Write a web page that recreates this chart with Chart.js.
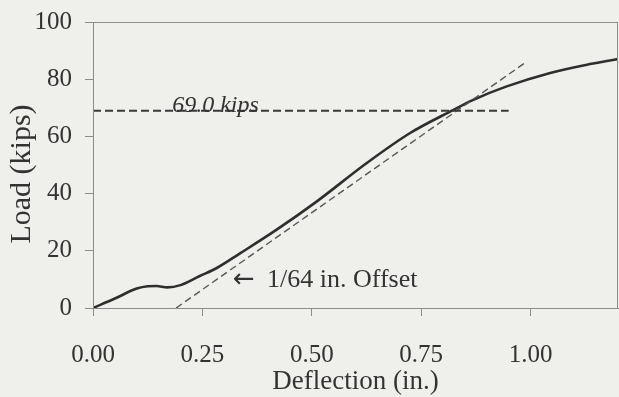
<!DOCTYPE html>
<html>
<head>
<meta charset="utf-8">
<script src="https://cdn.jsdelivr.net/npm/chart.js@4.4.0/dist/chart.umd.min.js"></script>
<style>
  html, body { margin: 0; padding: 0; background: #efefec; }
  canvas { display: block; }
  #fontWarm { position: absolute; left: -999px; font-family: "Liberation Serif"; }
</style>
</head>
<body>
<canvas id="loadChart" width="619" height="397"></canvas>
<span id="fontWarm">0.25 <i>kips</i> <span style="font-family:'DejaVu Sans'">←</span></span>
<script>
// measured load-deflection curve
const deflection = [0, 0.05, 0.10, 0.125, 0.145, 0.17, 0.20, 0.244, 0.282, 0.336, 0.419, 0.511, 0.625, 0.724, 0.823, 0.868, 0.944, 1.043, 1.127, 1.198];
const load = [0, 3.3, 6.8, 7.6, 7.7, 7.2, 8.0, 11.2, 13.9, 19.1, 27.3, 37.2, 50.6, 61.1, 69.2, 72.7, 77.4, 82.1, 85.0, 87.0];

// 1/64 in. offset line and yield load line
const offsetX = [0.19, 0.99];
const offsetY = [0, 86];
const yieldLoad = 69.0;
const yieldX = [0, 0.95];

const xTicks = [0, 0.25, 0.50, 0.75, 1.00];
const yTicks = [0, 20, 40, 60, 80, 100];

const ink = "#333333";
const axisGray = "#8c8c8c";
const serif = '"Liberation Serif"';

function pts(xs, ys) {
  return xs.map((x, i) => ({ x: x, y: ys[i] }));
}

// keep the plot box fixed: no extra room for overhanging tick labels
function noOverhang(s) {
  s.paddingTop = 0;
  s.paddingBottom = 0;
  s.paddingLeft = 0;
  s.paddingRight = 0;
}

// frame around the plot plus the axis titles and notes
const decorations = {
  id: "decorations",
  afterDraw(chart) {
    const c = chart.ctx;
    const a = chart.chartArea;
    const xs = chart.scales.x;
    const ys = chart.scales.y;
    c.save();
    c.strokeStyle = axisGray;
    c.lineWidth = 1;
    c.strokeRect(a.left + 0.5, a.top + 0.5, a.right - a.left - 1, a.bottom - a.top);

    c.fillStyle = ink;
    c.textAlign = "center";
    c.textBaseline = "middle";
    c.font = "27px " + serif;
    c.fillText("Deflection (in.)", (a.left + a.right) / 2, 382);

    c.save();
    c.translate(22, 174);
    c.rotate(-Math.PI / 2);
    c.font = "30px " + serif;
    c.fillText("Load (kips)", 0, 0);
    c.restore();

    c.textAlign = "left";
    c.textBaseline = "alphabetic";
    c.font = "italic 24px " + serif;
    c.fillText(yieldLoad.toFixed(1) + " kips", xs.getPixelForValue(0.181), ys.getPixelForValue(yieldLoad) + 1);

    // arrow pointing at the offset line, then its label
    const ly = ys.getPixelForValue(9.8);
    const lx = xs.getPixelForValue(0.32);
    c.textBaseline = "middle";
    c.font = '26px "DejaVu Sans"';
    c.fillText("\u2190", lx, ly);
    c.font = "26px " + serif;
    c.fillText("1/64 in. Offset", lx + 34, ly);
    c.restore();
  }
};

function draw() {
  new Chart(document.getElementById("loadChart").getContext("2d"), {
    type: "scatter",
    data: {
      datasets: [
        {
          data: pts(yieldX, [yieldLoad, yieldLoad]),
          showLine: true,
          borderColor: "#3a3a3a",
          borderWidth: 2,
          borderDash: [8, 4],
          pointRadius: 0
        },
        {
          data: pts(offsetX, offsetY),
          showLine: true,
          borderColor: "#555555",
          borderWidth: 1.4,
          borderDash: [7, 4],
          pointRadius: 0
        },
        {
          data: pts(deflection, load),
          showLine: true,
          borderColor: "#2e2e2e",
          borderWidth: 2.6,
          cubicInterpolationMode: "monotone",
          pointRadius: 0
        }
      ]
    },
    options: {
      responsive: false,
      animation: false,
      layout: { padding: { left: 0, top: 22, right: 1, bottom: 0 } },
      plugins: {
        legend: { display: false },
        tooltip: { enabled: false }
      },
      scales: {
        x: {
          type: "linear",
          min: 0,
          max: 1.2,
          afterBuildTicks: s => { s.ticks = xTicks.map(v => ({ value: v })); },
          afterFit: s => { s.height = 89; noOverhang(s); },
          grid: { drawOnChartArea: false, color: axisGray, tickLength: 8 },
          border: { color: axisGray },
          ticks: {
            padding: 24,
            color: ink,
            font: { family: serif, size: 25 },
            callback: v => v.toFixed(2)
          }
        },
        y: {
          min: 0,
          max: 100,
          afterBuildTicks: s => { s.ticks = yTicks.map(v => ({ value: v })); },
          afterFit: s => { s.width = 93; noOverhang(s); },
          grid: { drawOnChartArea: false, color: axisGray, tickLength: 8 },
          border: { color: axisGray },
          ticks: {
            padding: 13,
            color: ink,
            font: { family: serif, size: 25 }
          }
        }
      }
    },
    plugins: [decorations]
  });
}

Promise.all([
  document.fonts.load('25px "Liberation Serif"'),
  document.fonts.load('italic 24px "Liberation Serif"'),
  document.fonts.load('26px "DejaVu Sans"')
]).then(draw, draw);
</script>
</body>
</html>
